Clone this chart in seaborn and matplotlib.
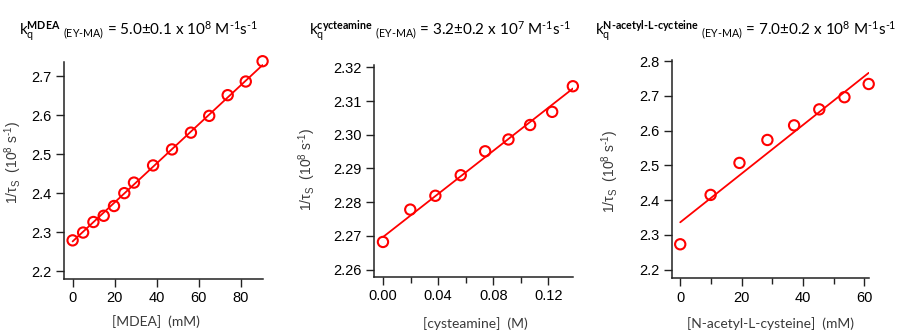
import numpy as np
import pandas as pd
import matplotlib
matplotlib.use("Agg")
import matplotlib.pyplot as plt
from matplotlib.ticker import MultipleLocator
import seaborn as sns

# Stern-Volmer style quenching data: 1/tau_S (10^8 s^-1) vs quencher concentration
mdea_mM = [0, 5.0, 9.9, 14.8, 19.7, 24.6, 29.2, 38.3, 47.3, 56.3, 65.0, 73.8, 82.4, 90.4]
mdea_rate = [2.279, 2.299, 2.326, 2.342, 2.367, 2.400, 2.427, 2.471, 2.512, 2.555,
             2.598, 2.651, 2.686, 2.738]

cys_M = [0, 0.0198, 0.0380, 0.0564, 0.0741, 0.0910, 0.1067, 0.1227, 0.1377]
cys_rate = [2.2682, 2.2778, 2.2819, 2.2880, 2.2951, 2.2986, 2.3029, 2.3068, 2.3144]

nac_mM = [0, 9.9, 19.3, 28.4, 37.1, 45.3, 53.5, 61.4]
nac_rate = [2.273, 2.415, 2.507, 2.573, 2.615, 2.661, 2.696, 2.734]

# quenching rate constants (M^-1 s^-1) and concentration unit in M
kq_mdea, kq_cys, kq_nac = 5.0e8, 3.2e7, 7.0e8
unit_mdea, unit_cys, unit_nac = 1e-3, 1.0, 1e-3

titles = [
    r"k$_\mathregular{q}^\mathbf{MDEA}$ $_\mathregular{(EY‐MA)}$ = 5.0±0.1 x 10$^\mathregular{8}$ M$^\mathregular{‐1}$s$^\mathregular{‐1}$",
    r"k$_\mathregular{q}^\mathbf{cycteamine}$ $_\mathregular{(EY‐MA)}$ = 3.2±0.2 x 10$^\mathregular{7}$ M$^\mathregular{‐1}$s$^\mathregular{‐1}$",
    r"k$_\mathregular{q}^\mathbf{N‐acetyl‐L‐cycteine}$ $_\mathregular{(EY‐MA)}$ = 7.0±0.2 x 10$^\mathregular{8}$ M$^\mathregular{‐1}$s$^\mathregular{‐1}$",
]
xlabels = ["[MDEA]  (mM)", "[cysteamine]  (M)", "[N-acetyl-L-cysteine]  (mM)"]
ylabel = r"1/τ$_\mathregular{S}$  (10$^\mathregular{8}$ s$^\mathregular{‐1}$)"

sns.set_style("ticks")
plt.rcParams["font.family"] = ["Liberation Sans", "DejaVu Sans"]
plt.rcParams["mathtext.fontset"] = "custom"
plt.rcParams["mathtext.rm"] = "Liberation Sans"
plt.rcParams["mathtext.bf"] = "Lato:bold"
plt.rcParams["mathtext.it"] = "Liberation Sans:italic"

fig = plt.figure(figsize=(8.99, 3.32), dpi=100)
W, H = 899, 332


def add_panel(box, x, y, kq, unit, xlim, ylim, xmajor, xminor, ymajor, xfmt,
              title, title_x, xlabel, xlab_pos, ylab_pos):
    l, t, r, b = box
    ax = fig.add_axes([l / W, 1 - b / H, (r - l) / W, (b - t) / H])
    x = np.asarray(x)
    y = np.asarray(y)
    slope = kq * unit / 1e8
    intercept = y.mean() - slope * x.mean()
    xfit = np.linspace(0, x.max(), 50)
    fit = pd.DataFrame({"c": xfit, "r": intercept + slope * xfit})
    data = pd.DataFrame({"c": x, "r": y})
    sns.lineplot(data=fit, x="c", y="r", ax=ax, color="#ff0000", lw=1.3)
    sns.scatterplot(data=data, x="c", y="r", ax=ax, marker="o", s=55,
                    facecolor="none", edgecolor="#ff0000", linewidth=1.5,
                    zorder=3, clip_on=False)
    ax.set_xlim(*xlim)
    ax.set_ylim(*ylim)
    ax.xaxis.set_major_locator(MultipleLocator(xmajor))
    if xminor:
        ax.xaxis.set_minor_locator(MultipleLocator(xminor))
    ax.yaxis.set_major_locator(MultipleLocator(ymajor))
    ax.xaxis.set_major_formatter(xfmt)
    ax.yaxis.set_major_formatter(lambda v, p: f"{v:.{2 if ymajor < 0.05 else 1}f}")
    sns.despine(ax=ax)
    for s in ("left", "bottom"):
        ax.spines[s].set_linewidth(1.1)
        ax.spines[s].set_color("#222222")
    ax.tick_params(which="major", direction="out", length=6, width=1.0,
                   labelsize=10.5, colors="#222222", labelcolor="black", pad=3)
    ax.tick_params(which="minor", direction="out", length=4, width=1.0, colors="#222222")
    ax.set_xlabel(xlabel, fontsize=10, family="Lato", color="#3a3a3a", va="top")
    ax.set_ylabel(ylabel, fontsize=10, color="#3a3a3a")
    ax.xaxis.set_label_coords(*xlab_pos)
    ax.yaxis.set_label_coords(*ylab_pos)
    fig.text(title_x / W, 1 - 35 / H, title, fontsize=11, family="Lato",
             ha="left", va="baseline", color="black")
    return ax


add_panel((64, 62, 263, 279), mdea_mM, mdea_rate, kq_mdea, unit_mdea,
          (-4.1, 90.6), (2.18, 2.736), 20, None, 0.1, lambda v, p: f"{v:.0f}",
          titles[0], 19, xlabels[0], (0.46, -0.165), (-0.20, 0.54))
add_panel((374, 65, 573, 277), cys_M, cys_rate, kq_cys, unit_cys,
          (-0.0065, 0.1378), (2.2578, 2.3207), 0.04, 0.02, 0.01,
          lambda v, p: f"{v:.2f}",
          titles[1], 309, xlabels[1], (0.51, -0.19), (-0.28, 0.51))
add_panel((672, 60, 869, 278), nac_mM, nac_rate, kq_nac, unit_nac,
          (-2.68, 61.5), (2.176, 2.803), 20, 10, 0.1, lambda v, p: f"{v:.0f}",
          titles[2], 595, xlabels[2], (0.50, -0.18), (-0.26, 0.49))

fig.savefig("out.png", dpi=100)
